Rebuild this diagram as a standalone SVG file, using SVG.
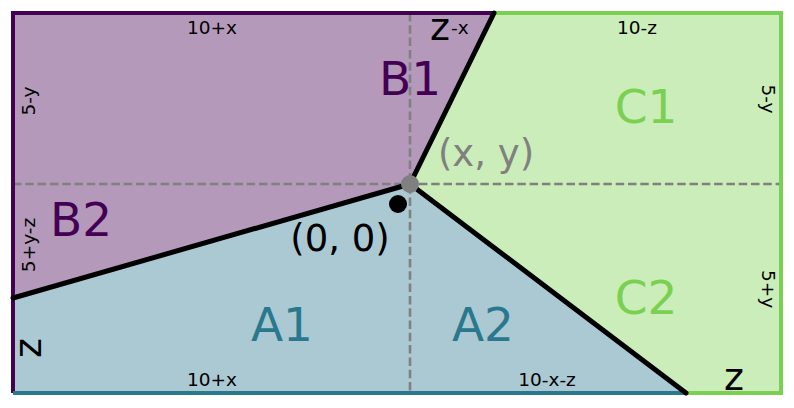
<svg xmlns="http://www.w3.org/2000/svg" width="794" height="408" viewBox="0 0 794 408">
<style>
text{font-family:"DejaVu Sans","Liberation Sans",sans-serif}
.sm{font-size:18.5px;fill:#000}
.big{font-size:38px;fill:#000}
.reg{font-size:47px;text-anchor:middle}
.dash{stroke:#808080;stroke-width:2.6;stroke-dasharray:8.5 3.8;fill:none}
.bnd{stroke:#000;stroke-width:5;fill:none;stroke-linecap:round}
</style>
<rect width="794" height="408" fill="#fff"/>
<g id="region-B">
<polygon points="13,13 494,13 410,184 13,298" fill="#b499bb"/>
</g>
<g id="region-C">
<polygon points="494,13 781,13 781,393 686,393 410,184" fill="#caedb9"/>
</g>
<g id="region-A">
<polygon points="13,298 410,184 686,393 13,393" fill="#aac9d2"/>
</g>
<g id="guides">
<line class="dash" x1="13" y1="184" x2="781" y2="184"/>
<line class="dash" x1="410" y1="13" x2="410" y2="393"/>
</g>
<g id="frame" stroke-width="4" fill="none">
<polyline points="494,13 13,13 13,393" stroke="#440154"/>
<line x1="13" y1="393" x2="686" y2="393" stroke="#2a788e"/>
<polyline points="686,393 781,393 781,13 494,13" stroke="#7ad151"/>
</g>
<g id="connectors">
<line class="bnd" x1="13" y1="298" x2="410" y2="184"/>
<line class="bnd" x1="410" y1="184" x2="494" y2="13"/>
<line class="bnd" x1="410" y1="184" x2="686" y2="393"/>
</g>
<g id="point-xy">
<circle cx="410" cy="184" r="9" fill="#808080"/>
<text x="486" y="166" font-size="37" fill="#808080" text-anchor="middle">(x, y)</text>
</g>
<g id="origin">
<circle cx="398" cy="204" r="9" fill="#000"/>
<text x="340" y="251" font-size="37" fill="#000" text-anchor="middle">(0, 0)</text>
</g>
<g id="labels-regions">
<text class="reg" x="410" y="95" fill="#440154">B1</text>
<text class="reg" x="81" y="236" fill="#440154">B2</text>
<text class="reg" x="646" y="123" fill="#7ad151">C1</text>
<text class="reg" x="646" y="314" fill="#7ad151">C2</text>
<text class="reg" x="282" y="341" fill="#2a788e">A1</text>
<text class="reg" x="483" y="341" fill="#2a788e">A2</text>
</g>
<g id="labels-edges">
<text class="sm" x="212" y="34" text-anchor="middle">10+x</text>
<text class="sm" x="451" y="34">-x</text>
<text class="big" x="440" y="40" text-anchor="middle">z</text>
<text class="sm" x="637" y="34" text-anchor="middle">10-z</text>
<text class="sm" x="212" y="386" text-anchor="middle">10+x</text>
<text class="sm" x="547" y="386" text-anchor="middle">10-x-z</text>
<text class="big" x="734" y="390" text-anchor="middle">z</text>
<text class="sm" text-anchor="middle" transform="translate(35,101) rotate(-90)">5-y</text>
<text class="sm" text-anchor="middle" transform="translate(35,245) rotate(-90)">5+y-z</text>
<text class="big" text-anchor="middle" transform="translate(41,348) rotate(-90)">z</text>
<text class="sm" text-anchor="middle" transform="translate(762,99) rotate(90)">5-y</text>
<text class="sm" text-anchor="middle" transform="translate(762,289) rotate(90)">5+y</text>
</g>
</svg>
